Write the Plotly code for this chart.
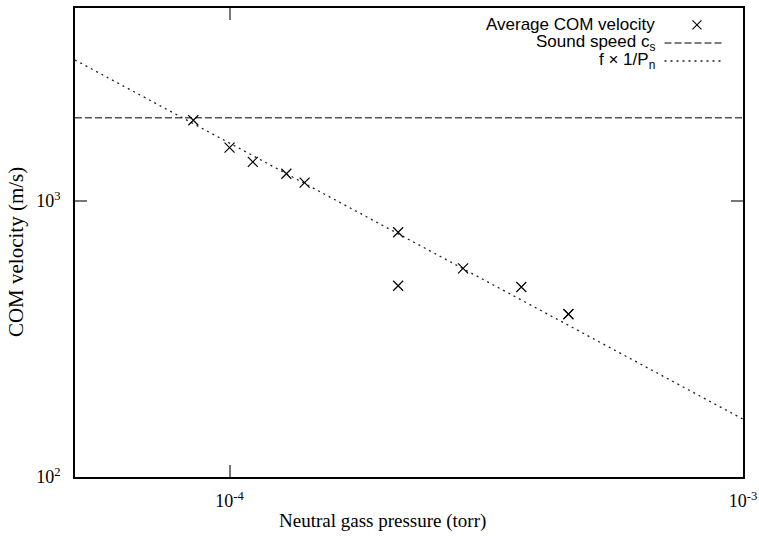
import plotly.graph_objects as go

# Data
pressure = [8.5e-5, 1.0e-4, 1.11e-4, 1.29e-4, 1.40e-4, 2.13e-4, 2.13e-4, 2.85e-4, 3.70e-4, 4.57e-4, 4.57e-4]
velocity = [1960, 1560, 1385, 1255, 1165, 770, 493, 570, 488, 389, 389]

sound_p = [5e-5, 1e-3]
sound_v = [2000, 2000]

fit_p = [5e-5, 1e-3]
fit_v = [3240, 162]

x_tickvals = [1e-4, 1e-3]
x_ticktext = ["10<sup>-4</sup>", "10<sup>-3</sup>"]
y_tickvals = [1e2, 1e3]
y_ticktext = ["10<sup>2</sup>", "10<sup>3</sup>"]

legend_labels = ["Average COM velocity", "Sound speed c<sub>s</sub>", "f \u00d7 1/P<sub>n</sub>"]

serif = "Liberation Serif, Times New Roman, serif"
sans = "Liberation Sans, Arial, sans-serif"

fig = go.Figure()
fig.add_trace(go.Scatter(x=sound_p, y=sound_v, mode="lines",
                         line=dict(color="#555555", width=1.5, dash="7px,3px"),
                         showlegend=False, hoverinfo="skip"))
fig.add_trace(go.Scatter(x=fit_p, y=fit_v, mode="lines",
                         line=dict(color="#222222", width=1.3, dash="2px,4px"),
                         showlegend=False, hoverinfo="skip"))
fig.add_trace(go.Scatter(x=pressure, y=velocity, mode="markers",
                         marker=dict(symbol="x-thin-open", size=10, color="black",
                                     line=dict(width=1.2, color="black")),
                         showlegend=False))

# Legend sample marker on an overlay axis in [0,1]
fig.add_trace(go.Scatter(x=[0.9311], y=[0.9638], mode="markers", xaxis="x2", yaxis="y2",
                         marker=dict(symbol="x-thin-open", size=9, color="black",
                                     line=dict(width=1.1, color="black")),
                         showlegend=False, hoverinfo="skip"))

axis_common = dict(type="log", showgrid=False, zeroline=False, showline=True,
                   linecolor="black", linewidth=1.5, mirror="ticks", ticks="inside",
                   ticklen=12, tickwidth=1.5, tickcolor="#777777",
                   ticklabeloverflow="allow",
                   tickfont=dict(family=serif, size=18, color="black"))

fig.update_layout(
    width=759, height=537,
    margin=dict(l=75, r=16, t=8, b=60, autoexpand=False),
    paper_bgcolor="white", plot_bgcolor="white",
    xaxis=dict(range=[-4.30103, -3], tickvals=x_tickvals, ticktext=x_ticktext,
               ticklabelstandoff=7, **axis_common),
    yaxis=dict(range=[2, 3.69897], tickvals=y_tickvals, ticktext=y_ticktext,
               ticklabelstandoff=9, **axis_common),
    xaxis2=dict(range=[0, 1], overlaying="x", visible=False, fixedrange=True),
    yaxis2=dict(range=[0, 1], overlaying="y", visible=False, fixedrange=True),
)

# Axis titles
fig.add_annotation(text="Neutral gass pressure (torr)", xref="paper", yref="paper",
                   x=0.4596, y=-0.093, xanchor="center", yanchor="middle", showarrow=False,
                   font=dict(family=serif, size=19, color="black"))
fig.add_annotation(text="COM velocity (m/s)", xref="paper", yref="paper",
                   x=-0.088, y=0.48, xanchor="center", yanchor="middle", showarrow=False,
                   textangle=-90, font=dict(family=serif, size=21, color="black"))

# Custom legend
leg_y = [0.9638, 0.9254, 0.887]
for lab, yy in zip(legend_labels, leg_y):
    fig.add_annotation(text=lab, xref="paper", yref="paper", x=0.871, y=yy,
                       xanchor="right", yanchor="middle", showarrow=False,
                       font=dict(family=sans, size=17, color="black"))
fig.add_shape(type="line", xref="paper", yref="paper", x0=0.8825, x1=0.9693,
              y0=leg_y[1], y1=leg_y[1], line=dict(color="#555555", width=1.5, dash="7px,3px"))
fig.add_shape(type="line", xref="paper", yref="paper", x0=0.8825, x1=0.9693,
              y0=leg_y[2], y1=leg_y[2], line=dict(color="#222222", width=1.3, dash="2px,4px"))

fig.write_html("out.html")
